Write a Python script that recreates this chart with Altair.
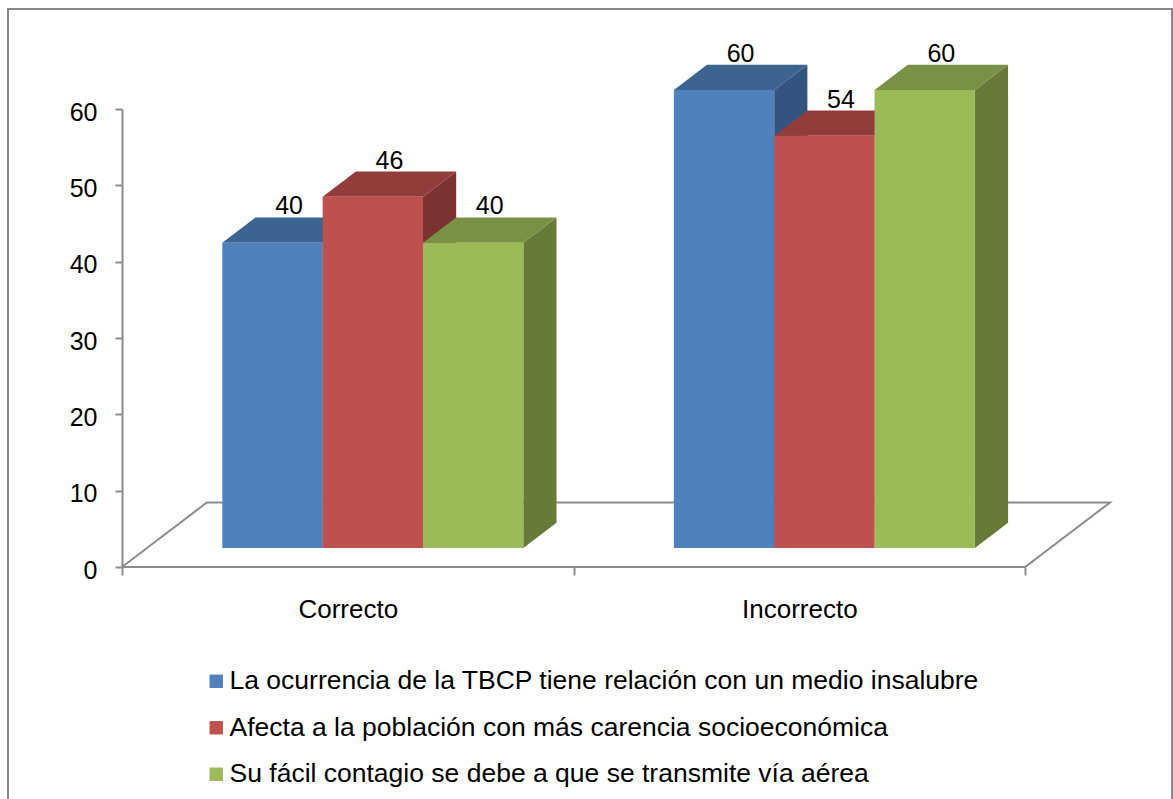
import json

import altair as alt
import pandas as pd

# ---- data -------------------------------------------------------------
CATEGORIES = ["Correcto", "Incorrecto"]
SERIES = [
    "La ocurrencia de la TBCP tiene relación con un medio insalubre",
    "Afecta a la población con más carencia socioeconómica",
    "Su fácil contagio se debe a que se transmite vía aérea",
]
VALUES_MEDIO = [40, 60]
VALUES_CARENCIA = [46, 54]
VALUES_AEREA = [40, 60]
Y_TICKS = [0, 10, 20, 30, 40, 50, 60]

# ---- style ------------------------------------------------------------
FRONT_COLORS = ["#4F81BD", "#C0504D", "#9BBB59"]
TOP_COLORS = ["#3D6391", "#933D3B", "#799145"]
SIDE_COLORS = ["#345480", "#7C3230", "#667A39"]
LINE_GREY = "#8C8C8C"
FONT = "Liberation Sans"

# 3-D box geometry, in data units
GAP_WIDTH = 1.5                      # gap between groups, in bar widths
BAR_W = 1 / (len(SERIES) + GAP_WIDTH)
DEPTH_X = 0.188                      # floor depth along x
DEPTH_Y = 8.45                       # floor depth along y
FRONT_F, BACK_F = 0.295, 0.686       # bars sit in the middle of the floor
DX = (BACK_F - FRONT_F) * DEPTH_X
DY = (BACK_F - FRONT_F) * DEPTH_Y

series_values = [VALUES_MEDIO, VALUES_CARENCIA, VALUES_AEREA]

fronts, tops, sides, labels = [], [], [], []
for c, cat in enumerate(CATEGORIES):
    for i, (serie, vals) in enumerate(zip(SERIES, series_values)):
        v = vals[c]
        bar = f"{cat}-{i}"
        x0 = c + GAP_WIDTH / 2 * BAR_W + i * BAR_W + FRONT_F * DEPTH_X
        x1 = x0 + BAR_W
        y0 = FRONT_F * DEPTH_Y
        y1 = y0 + v
        fronts.append(dict(bar=bar, serie=serie, x0=x0, x1=x1, y0=y0, y1=y1))
        tops += [
            dict(bar=bar, serie=serie, y=y1, xa=x0, xb=x1),
            dict(bar=bar, serie=serie, y=y1 + DY, xa=x0 + DX, xb=x1 + DX),
        ]
        sides += [
            dict(bar=bar, serie=serie, x=x1, ya=y0, yb=y1),
            dict(bar=bar, serie=serie, x=x1 + DX, ya=y0 + DY, yb=y1 + DY),
        ]
        labels.append(dict(x=(x0 + x1) / 2 + DX / 2, y=y1 + DY, value=v))

n = len(CATEGORIES)
floor = pd.DataFrame(
    dict(
        x=[0, n, n + DEPTH_X, DEPTH_X, 0],
        y=[0, 0, DEPTH_Y, DEPTH_Y, 0],
        k=[0, 1, 2, 3, 4],
    )
)

x_scale = alt.Scale(domain=[0, n + DEPTH_X], nice=False, zero=False)
y_scale = alt.Scale(domain=[0, 60], nice=False)

cat_array = "[" + ",".join(json.dumps(c) for c in CATEGORIES) + "]"
x_axis = alt.Axis(
    values=[k / 2 for k in range(2 * n + 1)],
    labelExpr=f"datum.value % 1 ? {cat_array}[floor(datum.value)] : ''",
    title=None,
    domain=False,
    grid=False,
    tickColor=LINE_GREY,
    tickWidth=2,
    tickSize=8,
    tickOpacity={"condition": {"test": "datum.value % 1", "value": 0}, "value": 1},
    labelFont=FONT,
    labelFontSize=26,
    labelColor="black",
    labelPadding=21,
    labelFlush=False,
    labelOverlap=False,
)
y_axis = alt.Axis(
    values=Y_TICKS,
    title=None,
    grid=False,
    domainColor=LINE_GREY,
    domainWidth=2,
    tickColor=LINE_GREY,
    tickWidth=2,
    tickSize=7,
    labelFont=FONT,
    labelFontSize=25,
    labelColor="black",
    labelPadding=18,
    labelOffset=3,
)


def X(field):
    return alt.X(field, type="quantitative", scale=x_scale, axis=x_axis)


def Y(field):
    return alt.Y(field, type="quantitative", scale=y_scale, axis=y_axis)


def face_color(colors, legend=None):
    return alt.Color(
        "serie:N",
        scale=alt.Scale(domain=SERIES, range=colors),
        legend=legend,
    )


floor_layer = alt.Chart(floor).mark_line(color=LINE_GREY, strokeWidth=2).encode(
    x=X("x"), y=Y("y"), order="k:Q"
)

side_layer = alt.Chart(pd.DataFrame(sides)).mark_area(orient="vertical").encode(
    x=X("x"), y=Y("ya"), y2="yb", detail="bar:N", color=face_color(SIDE_COLORS)
)

top_layer = alt.Chart(pd.DataFrame(tops)).mark_area(orient="horizontal").encode(
    y=Y("y"), x=X("xa"), x2="xb", detail="bar:N", color=face_color(TOP_COLORS)
)

legend = alt.Legend(
    title=None,
    orient="none",
    legendX=81,
    legendY=559,
    direction="vertical",
    symbolType="square",
    symbolSize=180,
    symbolStrokeWidth=0,
    labelFont=FONT,
    labelFontSize=26.5,
    labelColor="black",
    labelOffset=0,
    labelLimit=1000,
    rowPadding=19.5,
    padding=0,
)
front_layer = alt.Chart(pd.DataFrame(fronts)).mark_rect().encode(
    x=X("x0"), x2="x1", y=Y("y0"), y2="y1",
    color=face_color(FRONT_COLORS, legend),
)

label_layer = alt.Chart(pd.DataFrame(labels)).mark_text(
    font=FONT, fontSize=25, color="black", baseline="middle", dy=-11
).encode(x=X("x"), y=Y("y"), text="value:Q")

frame = alt.Chart(floor).mark_rect(
    fillOpacity=0, stroke="#888888", strokeWidth=2
).encode(
    x=alt.value(-114), x2=alt.value(1050), y=alt.value(-100), y2=alt.value(700)
)

chart = (
    alt.layer(frame, floor_layer, side_layer, top_layer, front_layer, label_layer)
    .resolve_scale(color="independent")
    .properties(
        width=988,
        height=458,
        autosize=alt.AutoSizeParams(type="none"),
        padding={"left": 122, "top": 109, "right": 63, "bottom": 232},
        background="white",
    )
    .configure_view(stroke=None)
)

chart.save("out.html", embed_options={"renderer": "svg", "actions": False})
